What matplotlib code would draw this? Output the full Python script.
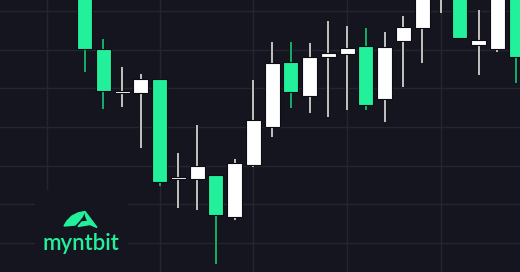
import numpy as np
import matplotlib.pyplot as plt
from matplotlib.patches import Polygon, Rectangle

# цены свечей (open, close, high, low)
opens  = [168.0, 150.1, 138.8, 138.8, 142.4, 116.5, 116.5, 117.6, 106.7, 120.2, 130.0, 146.8,
          138.0, 148.1, 148.8, 150.9, 137.2, 152.2, 155.6, 163.5, 168.0, 151.2, 150.1, 168.0]
closes = [150.1, 139.3, 139.3, 142.4, 115.8, 117.1, 119.9, 107.2, 120.7, 131.8, 146.5, 139.0,
          148.1, 149.1, 150.4, 135.7, 150.6, 155.8, 165.4, 168.0, 153.0, 152.5, 167.0, 148.1]
highs  = [170.0, 152.7, 145.5, 143.7, 142.4, 123.3, 130.5, 117.6, 121.7, 142.1, 151.9, 151.9,
          151.7, 157.4, 156.1, 155.6, 154.5, 158.7, 166.5, 170.0, 170.0, 160.2, 169.0, 170.0]
lows   = [144.2, 134.6, 135.1, 124.5, 114.7, 109.0, 108.5, 94.6, 105.9, 119.6, 127.4, 134.9,
          133.6, 132.6, 134.4, 134.4, 131.3, 140.3, 146.5, 159.4, 152.7, 143.4, 149.4, 141.3]

grid_prices = [100, 110, 120, 130, 140, 150, 160]
grid_idx = [-2, 4, 9, 14, 19]

BG = "#151520"
GRID = "#252531"
GREEN = "#23f09b"
GREEN_WICK = "#17a86b"
WHITE = "#ffffff"
WHITE_WICK = "#bdbdbd"

fig = plt.figure(figsize=(5.2, 2.72), dpi=100, facecolor=BG)
ax = fig.add_axes([0, 0, 1, 1])
ax.set_facecolor(BG)

x = np.arange(len(opens))
for i in x:
    o, c, h, l = opens[i], closes[i], highs[i], lows[i]
    down = c < o
    body_col = GREEN if down else WHITE
    wick_col = GREEN_WICK if down else WHITE_WICK
    ax.vlines(i, l, h, color="#0c0c12", linewidth=2.6, zorder=2)
    ax.vlines(i, l, h, color=wick_col, linewidth=1.5, zorder=3)
    bottom = min(o, c)
    height = max(abs(c - o), 0.6)
    ax.bar(i, height, bottom=bottom, width=0.8, color=body_col,
           edgecolor="#0c0c12", linewidth=0.8, zorder=4)

for g in grid_prices:
    ax.axhline(g, color=GRID, linewidth=1, zorder=1)
for g in grid_idx:
    ax.axvline(g, color=GRID, linewidth=1, zorder=1)

ax.set_xlim(-4.504, 23.21)
ax.set_ylim(92.5, 162.8)
ax.axis("off")

# логотип
lg = fig.add_axes([0, 0, 1, 1])
lg.set_xlim(0, 520)
lg.set_ylim(272, 0)
lg.axis("off")
lg.patch.set_alpha(0)
lg.add_patch(Rectangle((35, 190), 92, 82, color=BG, zorder=1))
wing = [(64, 226), (67, 221), (72, 216), (78, 213), (85, 211.5), (82, 217),
        (78, 222), (75, 225), (70, 225.5)]
lg.add_patch(Polygon(wing, closed=True, color=GREEN, zorder=2))
tri = [(85, 211.5), (97, 227.5), (90, 224.5), (78, 226.5), (82, 222), (88, 221.5),
       (86, 217)]
lg.add_patch(Polygon(tri, closed=True, color=GREEN, zorder=2))
lg.text(81, 244, "myntbit", color=GREEN, fontsize=16, family="Lato",
        fontweight="semibold", ha="center", va="center", zorder=3)

fig.savefig("out.png", dpi=100, facecolor=BG)
